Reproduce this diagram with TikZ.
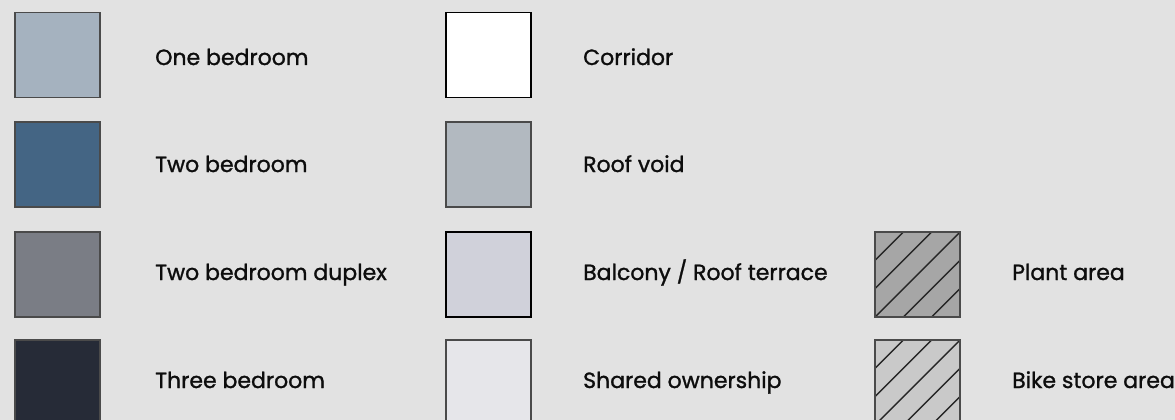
\documentclass[tikz,border=0pt]{standalone}
\usepackage{fontspec}
\setmainfont{Poppins}[FakeBold=1.2]

\definecolor{bg}{HTML}{E2E2E2}
\definecolor{edge}{HTML}{4A4A4A}
\definecolor{onebed}{HTML}{A5B2BF}
\definecolor{twobed}{HTML}{446584}
\definecolor{duplex}{HTML}{7A7D85}
\definecolor{threebed}{HTML}{262B37}
\definecolor{roofvoid}{HTML}{B2B9C0}
\definecolor{balcony}{HTML}{D0D1DA}
\definecolor{shared}{HTML}{E6E6EA}
\definecolor{plant}{HTML}{A6A6A6}
\definecolor{bike}{HTML}{C9C9C9}

\tikzset{
  swatch/.style={draw=edge, line width=1.2pt, minimum size=85pt, inner sep=0pt},
  hatched/.style={swatch, path picture={
      \foreach \k in {1,...,5}
        \draw[line width=1.4pt, black!85] (path picture bounding box.north west) ++(\k*85/3,0) -- ++(-120,120);}},
  key/.style={anchor=base west, inner sep=0pt, text=black!95, font=\fontsize{22}{26}\selectfont}
}

\begin{document}
\begin{tikzpicture}[x=1pt,y=-1pt]
\fill[bg] (0,0) rectangle (1175,420);
\useasboundingbox (0,0) rectangle (1175,420);
% first column
\node[swatch, fill=onebed] (onebed) at (57.5,55) {};
\node[swatch, fill=twobed] (twobed) at (57.5,164.5) {};
\node[swatch, fill=duplex] (duplex) at (57.5,274.5) {};
\node[swatch, fill=threebed] (threebed) at (57.5,382.5) {};
\node[key] (onebedtxt) at (155,65) {One bedroom};
\node[key] (twobedtxt) at (155,172) {Two bedroom};
\node[key] (duplextxt) at (155,280) {Two bedroom duplex};
\node[key] (threebedtxt) at (155,388) {Three bedroom};
% second column
\node[swatch, draw=black, fill=white] (corridor) at (488.5,55) {};
\node[swatch, fill=roofvoid] (roofvoid) at (488.5,164.5) {};
\node[swatch, draw=black, fill=balcony] (balcony) at (488.5,274.5) {};
\node[swatch, fill=shared] (shared) at (488.5,382.5) {};
\node[key] (corridortxt) at (583,65) {Corridor};
\node[key] (roofvoidtxt) at (583,172) {Roof void};
\node[key] (balconytxt) at (583,280) {Balcony / Roof terrace};
\node[key] (sharedtxt) at (583,388) {Shared ownership};
% third column
\node[hatched, fill=plant] (plant) at (917.5,274.5) {};
\node[hatched, fill=bike] (bike) at (917.5,382.5) {};
\node[key] (planttxt) at (1012,280) {Plant area};
\node[key] (biketxt) at (1012,388) {Bike store area};
\end{tikzpicture}
\end{document}
